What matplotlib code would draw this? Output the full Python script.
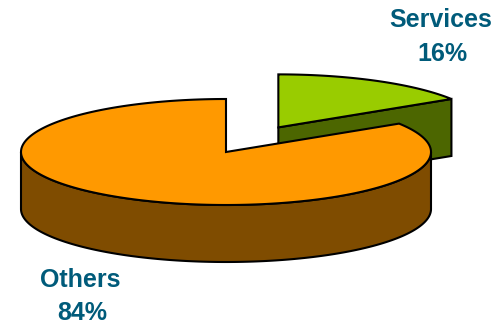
import numpy as np
import matplotlib
matplotlib.use("Agg")
import matplotlib.pyplot as plt
from matplotlib.patches import Polygon

# Dữ liệu
labels = ["Services", "Others"]
shares = [16, 84]
top_colors = ["#99CC00", "#FF9900"]
side_colors = ["#4C6600", "#7F4C00"]
explode = [0.53, 0.0]

# Hình học (toạ độ pixel, y hướng xuống)
cx, cy = 226, 152
rx, ry = 205, 53
depth = 57
text_color = "#005B7A"


def ellipse_pts(x0, y0, t0, t1, dy=0, n=200):
    t = np.radians(np.linspace(t0, t1, n))
    return np.column_stack([x0 + rx * np.cos(t), y0 + dy - ry * np.sin(t)])


fig = plt.figure(figsize=(5.01, 3.26), dpi=100)
ax = fig.add_axes([0, 0, 1, 1])
ax.set_xlim(0, 501)
ax.set_ylim(326, 0)
ax.axis("off")

total = sum(shares)
start = 90.0
for lab, val, ctop, cside, ex in zip(labels, shares, top_colors, side_colors, explode):
    a0 = start
    a1 = start - 360.0 * val / total
    start = a1
    mid = np.radians((a0 + a1) / 2)
    x0 = cx + ex * rx * np.cos(mid)
    y0 = cy - ex * ry * np.sin(mid)

    # tường ngoài (phần phía trước)
    lo, hi = max(a1, -180), min(a0, 0)
    if lo < hi:
        top = ellipse_pts(x0, y0, hi, lo)
        bot = ellipse_pts(x0, y0, lo, hi, dy=depth)
        ax.add_patch(Polygon(np.vstack([top, bot]), closed=True, fc=cside,
                             ec="black", lw=1.5, zorder=2))

    # mặt cắt
    for a, nrm in [(a1, a1 - 90), (a0, a0 + 90)]:
        if np.sin(np.radians(nrm)) < -1e-6:
            ex_pt = ellipse_pts(x0, y0, a, a, n=1)[0]
            quad = [(x0, y0), tuple(ex_pt), (ex_pt[0], ex_pt[1] + depth),
                    (x0, y0 + depth)]
            ax.add_patch(Polygon(quad, closed=True, fc=cside, ec="black",
                                 lw=1.5, zorder=2))

    # mặt trên
    arc = ellipse_pts(x0, y0, a0, a1)
    ax.add_patch(Polygon(np.vstack([[x0, y0], arc]), closed=True, fc=ctop,
                         ec="black", lw=1.5, zorder=3))

font = dict(family=["Liberation Sans", "DejaVu Sans"], fontsize=18,
            fontweight="bold", color=text_color, ha="center", va="center")
ax.text(441, 20, labels[0], **font)
ax.text(442, 54, f"{shares[0]}%", **font)
ax.text(80, 280, labels[1], **font)
ax.text(82, 313, f"{shares[1]}%", **font)

fig.savefig("out.png", dpi=100)
